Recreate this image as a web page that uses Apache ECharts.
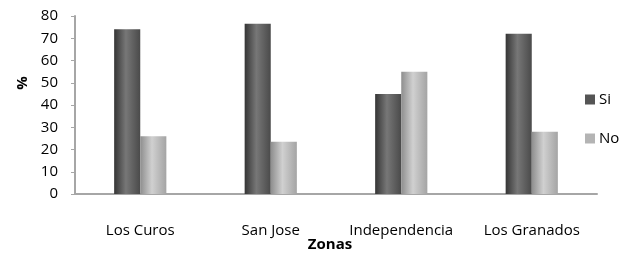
<!DOCTYPE html>
<html>
<head>
<meta charset="utf-8">
<script src="https://cdn.jsdelivr.net/npm/echarts@6/dist/echarts.min.js"></script>
<style>
	html, body { margin: 0; padding: 0; background: #fff; }
	#chart { width: 633px; height: 253px; }
</style>
</head>
<body>
<div id="chart"></div>
<script>
var zonas = ['Los Curos', 'San Jose', 'Independencia', 'Los Granados'];
var siData = [74, 76.5, 45, 72];
var noData = [26, 23.5, 55, 28];
var yTicks = [0, 10, 20, 30, 40, 50, 60, 70, 80];

var cylinder = function(c1, c2, c3) {
	return new echarts.graphic.LinearGradient(0, 0, 1, 0, [
		{ offset: 0, color: c1 },
		{ offset: 0.45, color: c2 },
		{ offset: 1, color: c3 }
	]);
};

var font = '"Open Sans", "Liberation Sans", sans-serif';

var chart = echarts.init(document.getElementById('chart'));
var option = {
	animation: false,
	textStyle: { fontFamily: font },
	grid: { left: 75, right: 36, top: 16, bottom: 59, outerBoundsMode: 'none', containLabel: false },
	legend: {
		orient: 'vertical',
		left: 580,
		top: 87,
		itemWidth: 10,
		itemHeight: 10,
		itemGap: 24,
		icon: 'rect',
		textStyle: { fontSize: 15, color: '#000', fontFamily: font, padding: [0, 0, 0, -1] },
		data: [
			{ name: 'Si', itemStyle: { color: '#555' } },
			{ name: 'No', itemStyle: { color: '#b4b4b4' } }
		]
	},
	xAxis: {
		type: 'category',
		data: zonas,
		name: 'Zonas',
		nameLocation: 'middle',
		nameGap: 43,
		nameMoveOverlap: false,
		nameTextStyle: { fontSize: 15, fontWeight: 'bold', color: '#000', fontFamily: font, padding: [0, 12, 0, 0] },
		axisLine: { lineStyle: { color: '#a6a6a6', width: 2 } },
		axisTick: { show: false },
		axisLabel: { interval: 0, margin: 29, fontSize: 15, color: '#000', fontFamily: font }
	},
	yAxis: {
		type: 'value',
		min: yTicks[0],
		max: yTicks[yTicks.length - 1],
		interval: 10,
		name: '%',
		nameLocation: 'middle',
		nameGap: 45,
		nameMoveOverlap: false,
		nameRotate: 90,
		nameTextStyle: { fontSize: 15, fontWeight: 'bold', color: '#000', fontFamily: font, padding: [0, 0, 0, 44] },
		axisLine: { show: true, lineStyle: { color: '#a6a6a6', width: 2 } },
		axisTick: { show: true, length: 4, lineStyle: { color: '#a6a6a6', width: 1 } },
		splitLine: { show: false },
		axisLabel: { margin: 17, fontSize: 15, color: '#000', fontFamily: font }
	},
	series: [
		{
			name: 'Si',
			type: 'bar',
			data: siData,
			barGap: '0%',
			barCategoryGap: '60%',
			itemStyle: { color: cylinder('#353535', '#777777', '#4a4a4a') }
		},
		{
			name: 'No',
			type: 'bar',
			data: noData,
			itemStyle: { color: cylinder('#8e8e8e', '#d0d0d0', '#a4a4a4') }
		}
	]
};
chart.setOption(option, true);
</script>
</body>
</html>
